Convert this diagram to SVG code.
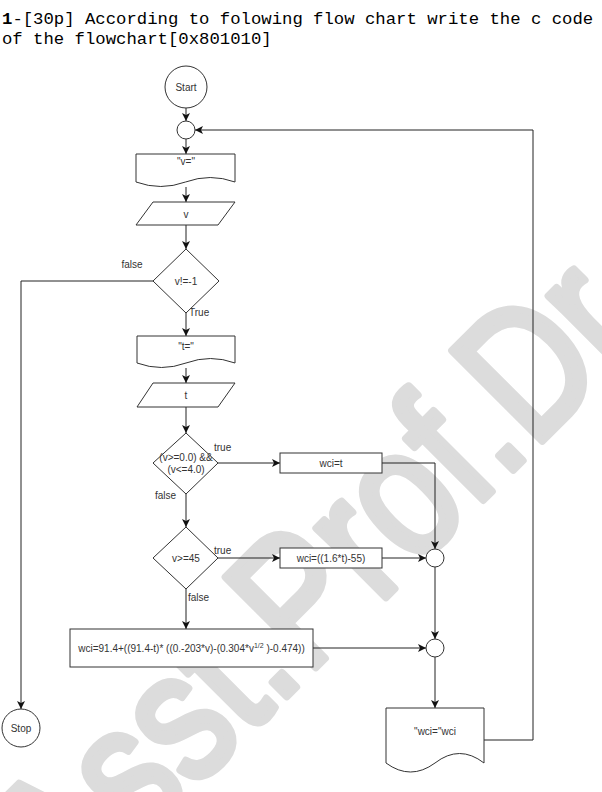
<svg xmlns="http://www.w3.org/2000/svg" width="602" height="792" viewBox="0 0 602 792">
<style>
.s{fill:#fff;stroke:#333;stroke-width:1}
.t{font-family:"Liberation Sans",Arial,sans-serif;font-size:10px;fill:#333;text-anchor:middle}
.l{font-family:"Liberation Sans",Arial,sans-serif;font-size:10px;fill:#333}
.c{fill:none;stroke:#222;stroke-width:1}
.title{font-family:"Liberation Mono","Courier New",monospace;font-size:17.3px;fill:#000}
</style>
<defs>
<marker id="a" markerUnits="userSpaceOnUse" markerWidth="9" markerHeight="8" refX="8" refY="4" orient="auto">
<path d="M0,0 L8,4 L0,8 L2,4 Z" fill="#111"/>
</marker>
</defs>
<rect width="602" height="792" fill="#fff"/>
<g id="watermark">
<text x="0" y="0" transform="translate(68,915) rotate(-45) scale(0.82,1)" font-family="Liberation Sans,Arial,sans-serif" font-size="185" fill="#dcdcdc" stroke="#dcdcdc" stroke-width="8" stroke-linejoin="round">Asst.Prof.Dr</text>
</g>
<g id="title">
<text class="title" x="2" y="24"><tspan font-weight="bold">1</tspan>-[30p] According to folowing flow chart write the c code</text>
<text class="title" x="2" y="44">of the flowchart[0x801010]</text>
</g>
<g id="connectors">
<path class="c" d="M186,108 V121" marker-end="url(#a)"/>
<path class="c" d="M186,139 V154" marker-end="url(#a)"/>
<path class="c" d="M186,187 V202" marker-end="url(#a)"/>
<path class="c" d="M186,225 V249" marker-end="url(#a)"/>
<path class="c" d="M153,281 H21 V709" marker-end="url(#a)"/>
<path class="c" d="M186,313 V336" marker-end="url(#a)"/>
<path class="c" d="M186,368 V383" marker-end="url(#a)"/>
<path class="c" d="M186,407 V433" marker-end="url(#a)"/>
<path class="c" d="M218,463 H280" marker-end="url(#a)"/>
<path class="c" d="M382,463 H435 V549" marker-end="url(#a)"/>
<path class="c" d="M186,494 V527" marker-end="url(#a)"/>
<path class="c" d="M218,558 H280" marker-end="url(#a)"/>
<path class="c" d="M382,558 H426" marker-end="url(#a)"/>
<path class="c" d="M186,589 V629" marker-end="url(#a)"/>
<path class="c" d="M313,648 H426" marker-end="url(#a)"/>
<path class="c" d="M435,567 V639" marker-end="url(#a)"/>
<path class="c" d="M435,657 V708" marker-end="url(#a)"/>
<path class="c" d="M484,740 H533 V130 H195" marker-end="url(#a)"/>
</g>
<g id="labels">
<text class="t" x="132" y="267.5">false</text>
<text class="l" x="189" y="315.5">True</text>
<text class="l" x="214" y="450.5">true</text>
<text class="l" x="155" y="498.5">false</text>
<text class="l" x="214" y="553.5">true</text>
<text class="l" x="188" y="600.5">false</text>
</g>
<g id="start">
<circle class="s" cx="186" cy="87" r="21"/>
<text class="t" x="186" y="90.5">Start</text>
</g>
<g id="join0"><circle class="s" cx="186" cy="130" r="9"/></g>
<g id="out-v">
<path class="s" d="M136,154 H235 V182 Q210.25,173 185.5,182 Q160.75,191 136,182 Z"/>
<text class="t" x="186" y="164.5">"v="</text>
</g>
<g id="in-v">
<polygon class="s" points="153,202 235,202 218,225 136,225"/>
<text class="t" x="186" y="217.5">v</text>
</g>
<g id="dec1">
<polygon class="s" points="186,249 219,281 186,313 153,281"/>
<text class="t" x="186" y="284.5">v!=-1</text>
</g>
<g id="out-t">
<path class="s" d="M137,336 H235 V363 Q210.5,354 186,363 Q161.5,372 137,363 Z"/>
<text class="t" x="186" y="349.5">"t="</text>
</g>
<g id="in-t">
<polygon class="s" points="153,383 235,383 218,407 137,407"/>
<text class="t" x="186" y="398.5">t</text>
</g>
<g id="dec2">
<polygon class="s" points="186,433 218,463 186,494 153,463"/>
<text class="t" x="186" y="460.5">(v&gt;=0.0) &amp;&amp;</text>
<text class="t" x="186" y="472.5">(v&lt;=4.0)</text>
</g>
<g id="proc1">
<rect class="s" x="280" y="453" width="102" height="20"/>
<text class="t" x="331" y="466.5">wci=t</text>
</g>
<g id="dec3">
<polygon class="s" points="186,527 218,558 186,589 153,558"/>
<text class="t" x="186" y="561.5">v&gt;=45</text>
</g>
<g id="proc2">
<rect class="s" x="280" y="548" width="102" height="20"/>
<text class="t" x="331" y="561.5">wci=((1.6*t)-55)</text>
</g>
<g id="proc3">
<rect class="s" x="70" y="629" width="243" height="38"/>
<text class="t" x="191.5" y="651.5">wci=91.4+((91.4-t)* ((0.-203*v)-(0.304*v<tspan dy="-4" font-size="7">1/2</tspan><tspan dy="4"> )-0.474))</tspan></text>
</g>
<g id="join1"><circle class="s" cx="435" cy="558" r="9"/></g>
<g id="join2"><circle class="s" cx="435" cy="648" r="9"/></g>
<g id="out-wci">
<path class="s" d="M386,708 H484 V763 Q459.5,744 435,763 Q410.5,781 386,763 Z"/>
<text class="t" x="435" y="734.5">"wci="wci</text>
</g>
<g id="stop">
<circle class="s" cx="21" cy="728" r="19"/>
<text class="t" x="21" y="731.5">Stop</text>
</g>
</svg>
